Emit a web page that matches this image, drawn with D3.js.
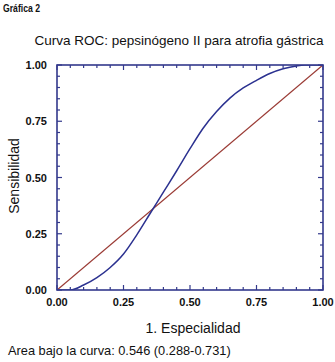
<!DOCTYPE html>
<html>
<head>
<meta charset="utf-8">
<script src="https://cdn.jsdelivr.net/npm/d3@7"></script>
<style>
  body { margin: 0; background: #fff; }
  svg text { font-family: "Liberation Sans", Arial, Helvetica, sans-serif; fill: #111; }
</style>
</head>
<body>
<div id="chart"></div>
<script>
// ROC curve (1 - especificidad, sensibilidad)
const rocX = [0.00, 0.05, 0.10, 0.15, 0.20, 0.25, 0.30, 0.35, 0.40, 0.45, 0.50, 0.55, 0.60, 0.65, 0.70, 0.75, 0.80, 0.85, 0.90, 0.93, 1.00];
const rocY = [0.00, 0.00, 0.022, 0.055, 0.100, 0.160, 0.245, 0.340, 0.435, 0.530, 0.628, 0.720, 0.793, 0.853, 0.898, 0.932, 0.962, 0.983, 0.996, 1.00, 1.00];
// reference line
const diagX = [0, 1];
const diagY = [0, 1];
const majorTicks = [0, 0.25, 0.5, 0.75, 1];
const minorTicks = [0.05, 0.1, 0.15, 0.2, 0.3, 0.35, 0.4, 0.45, 0.55, 0.6, 0.65, 0.7, 0.8, 0.85, 0.9, 0.95];

const W = 335, H = 362;
const plot = { left: 57, top: 65, right: 323, bottom: 290 };
const frameColor = '#33398c';

const svg = d3.select('#chart').append('svg')
  .attr('width', W).attr('height', H);

const x = d3.scaleLinear().domain([0, 1]).range([plot.left, plot.right]);
const y = d3.scaleLinear().domain([0, 1]).range([plot.bottom, plot.top]);

// Header texts
svg.append('text')
  .attr('x', 3).attr('y', 12)
  .attr('font-size', '10.5px').attr('font-weight', 'bold')
  .attr('textLength', 37).attr('lengthAdjust', 'spacingAndGlyphs')
  .text('Gráfica 2');

svg.append('text')
  .attr('x', 179).attr('y', 45)
  .attr('text-anchor', 'middle')
  .attr('font-size', '13.5px')
  .text('Curva ROC: pepsinógeno II para atrofia gástrica');

// Clip for curves
svg.append('clipPath').attr('id', 'clip')
  .append('rect')
  .attr('x', plot.left).attr('y', plot.top)
  .attr('width', plot.right - plot.left).attr('height', plot.bottom - plot.top);

const line = d3.line().x(d => x(d[0])).y(d => y(d[1]));

svg.append('path')
  .attr('clip-path', 'url(#clip)')
  .attr('d', line(diagX.map((v, i) => [v, diagY[i]])))
  .attr('fill', 'none')
  .attr('stroke', '#9a3a34')
  .attr('stroke-width', 1.3);

svg.append('path')
  .attr('clip-path', 'url(#clip)')
  .attr('d', line.curve(d3.curveMonotoneX)(rocX.map((v, i) => [v, rocY[i]])))
  .attr('fill', 'none')
  .attr('stroke', '#2b3190')
  .attr('stroke-width', 1.5);

// Inward ticks on all four sides
const tickLayer = svg.append('g').attr('stroke', frameColor).attr('stroke-width', 1.2);
function sideTicks(vals, len) {
  vals.forEach(v => {
    tickLayer.append('line').attr('x1', x(v)).attr('x2', x(v)).attr('y1', plot.bottom).attr('y2', plot.bottom - len);
    tickLayer.append('line').attr('x1', x(v)).attr('x2', x(v)).attr('y1', plot.top).attr('y2', plot.top + len);
    tickLayer.append('line').attr('y1', y(v)).attr('y2', y(v)).attr('x1', plot.left).attr('x2', plot.left + len);
    tickLayer.append('line').attr('y1', y(v)).attr('y2', y(v)).attr('x1', plot.right).attr('x2', plot.right - len);
  });
}
sideTicks(majorTicks, 5);
sideTicks(minorTicks, 3);

// Frame
svg.append('rect')
  .attr('x', plot.left).attr('y', plot.top)
  .attr('width', plot.right - plot.left).attr('height', plot.bottom - plot.top)
  .attr('fill', 'none')
  .attr('stroke', frameColor)
  .attr('stroke-width', 1.6);

// Tick labels
svg.append('g').selectAll('text')
  .data(majorTicks)
  .join('text')
  .attr('x', 47)
  .attr('y', d => y(d) + 4)
  .attr('text-anchor', 'end')
  .attr('font-size', '11px').attr('font-weight', 'bold')
  .text(d3.format('.2f'));

svg.append('g').selectAll('text')
  .data(majorTicks)
  .join('text')
  .attr('x', d => x(d))
  .attr('y', 306)
  .attr('text-anchor', 'middle')
  .attr('font-size', '11px').attr('font-weight', 'bold')
  .text(d3.format('.2f'));

// Axis titles
svg.append('text')
  .attr('transform', 'translate(19,176) rotate(-90)')
  .attr('text-anchor', 'middle')
  .attr('font-size', '14px')
  .text('Sensibilidad');

svg.append('text')
  .attr('x', 193).attr('y', 333)
  .attr('text-anchor', 'middle')
  .attr('font-size', '14px')
  .text('1. Especialidad');

svg.append('text')
  .attr('x', 8).attr('y', 355)
  .attr('font-size', '12.8px')
  .text('Area bajo la curva: 0.546 (0.288-0.731)');
</script>
</body>
</html>
